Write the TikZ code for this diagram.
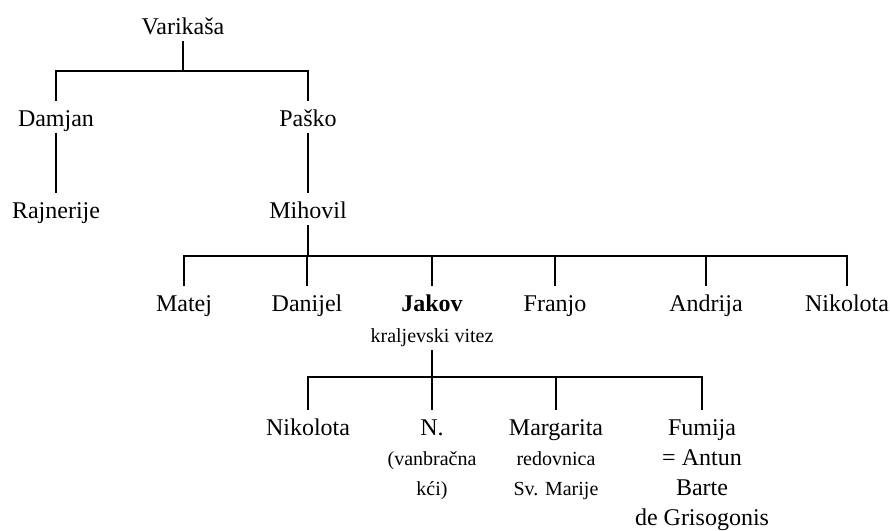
\documentclass[tikz,border=0pt]{standalone}
\usepackage{fontspec}
\setmainfont{Liberation Serif}
\usepackage{tikz}
\usetikzlibrary{calc}

\tikzset{
    person/.style={font=\fontsize{24}{29}\selectfont, anchor=base,
        text height=25pt, text depth=7pt, inner ysep=0pt, inner xsep=2pt},
    title/.style={font=\fontsize{20}{24}\selectfont, anchor=base,
        text height=15pt, text depth=8pt, inner ysep=0pt, inner xsep=2pt},
    extra/.style={font=\fontsize{24}{29}\selectfont, anchor=base, inner sep=0pt},
    small/.style={font=\fontsize{20}{24}\selectfont, anchor=base, inner sep=0pt},
    link/.style={line width=2.2pt}
}

\begin{document}
\begin{tikzpicture}[x=1pt, y=-1pt]
        \useasboundingbox (0,0) rectangle (890,530);

        \node[person] (var) at (183,34) {Varika\v{s}a};
        \node[person] (dam) at (56,126) {Damjan};
        \node[person] (pas) at (308,126) {Pa\v{s}ko};
        \node[person] (raj) at (56,218) {Rajnerije};
        \node[person] (mih) at (308,218) {Mihovil};

        \node[person] (mat) at (184,311) {Matej};
        \node[person] (dan) at (307,311) {Danijel};
        \node[person] (jak) at (432,311) {\textbf{Jakov}};
        \node[title] (vit) at (432,342) {kraljevski vitez};
        \node[person] (fra) at (555,311) {Franjo};
        \node[person] (and) at (706,311) {Andrija};
        \node[person] (nik) at (847,311) {Nikolota};

        \node[person] (nkl) at (308,435) {Nikolota};
        \node[person] (nn) at (432,435) {N.};
        \node[small] (nn1) at (432,465) {(vanbra\v{c}na};
        \node[small] (nn2) at (432,495) {k\'{c}i)};
        \node[person] (mar) at (556,435) {Margarita};
        \node[small] (mar1) at (556,465) {redovnica};
        \node[small] (mar2) at (556,495) {Sv. Marije};
        \node[person] (fum) at (702,435) {Fumija};
        \node[extra] (fum1) at (702,465) {= Antun};
        \node[extra] (fum2) at (702,495) {Barte};
        \node[extra] (fum3) at (702,525) {de Grisogonis};

        \coordinate (b1) at (183,71);
        \coordinate (b2) at (308,256);
        \coordinate (b3) at (432,377);

        \draw[link] (var) -- (var |- b1);
        \draw[link] (dam) |- (b1) -| (pas);
        \draw[link] (dam) -- (raj);
        \draw[link] (pas) -- (mih);

        \draw[link] (mih) -- (mih |- b2);
        \draw[link] (mat) |- (b2) -| (nik);
        \foreach \n in {dan,jak,fra,and}
            \draw[link] (\n) -- (\n |- b2);

        \draw[link] (vit) -- (vit |- b3);
        \draw[link] (nkl) |- (b3) -| (fum);
        \foreach \n in {nn,mar}
            \draw[link] (\n) -- (\n |- b3);
    \end{tikzpicture}
\end{document}
